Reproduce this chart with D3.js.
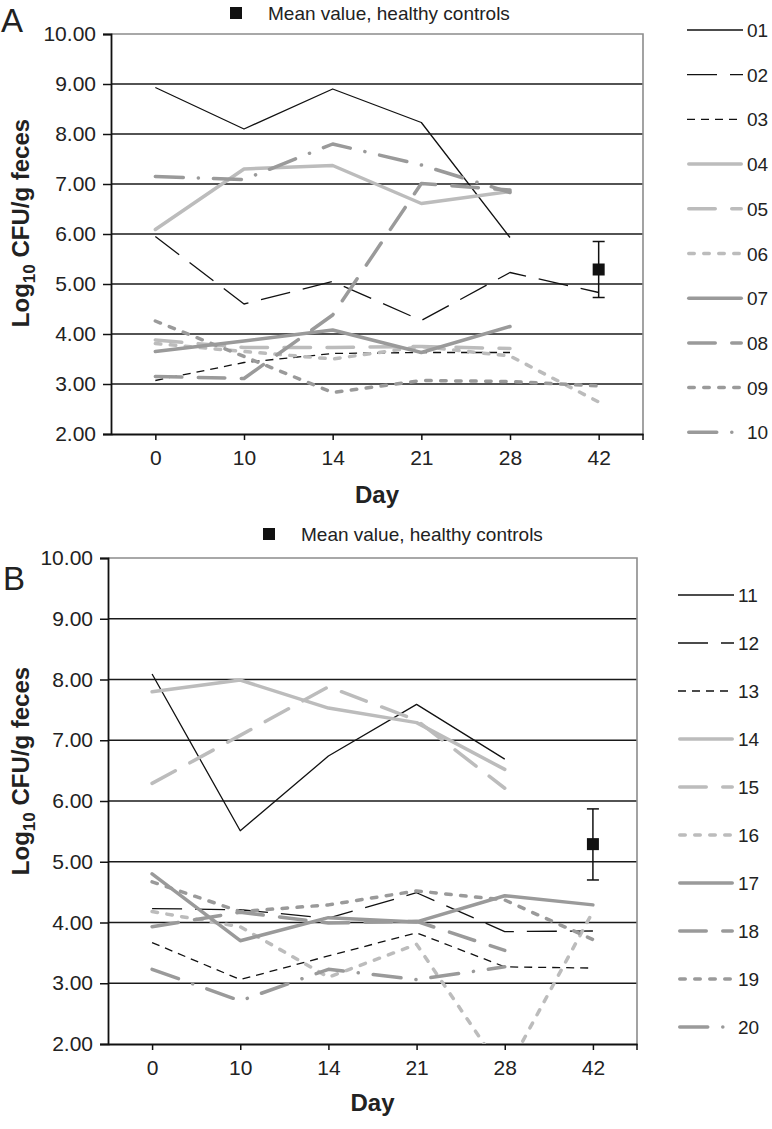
<!DOCTYPE html>
<html>
<head>
<meta charset="utf-8">
<script src="https://cdn.jsdelivr.net/npm/d3@7"></script>
<style>
  body { margin: 0; background: #fff; }
  svg { display: block; font-family: "Liberation Sans", Arial, sans-serif; }
  .tick-label { font-size: 21px; fill: #222; }
  .axis-title { font-size: 24px; font-weight: bold; fill: #222; }
  .legend-text { font-size: 19px; fill: #222; }
  .panel-letter { font-size: 33px; fill: #222; }
</style>
</head>
<body>
<div id="chart"></div>
<script>
// Two stacked line panels (A: subjects 01-10, B: subjects 11-20), log10 CFU/g feces by day.

const days = ["0", "10", "14", "21", "28", "42"];
const yTicks = [2, 3, 4, 5, 6, 7, 8, 9, 10];

const namesA = ["01", "02", "03", "04", "05", "06", "07", "08", "09", "10"];
const valuesA = [
  [8.93, 8.10, 8.90, 8.23, 5.93, null],
  [5.95, 4.60, 5.05, 4.27, 5.23, 4.83],
  [3.07, 3.43, 3.61, 3.63, 3.63, null],
  [6.09, 7.30, 7.37, 6.61, 6.85, null],
  [3.88, 3.73, 3.73, 3.75, 3.71, null],
  [3.81, 3.65, 3.50, 3.75, 3.56, 2.64],
  [3.65, 3.86, 4.08, 3.63, 4.15, null],
  [3.15, 3.11, 4.38, 7.01, 6.88, null],
  [4.26, 3.55, 2.83, 3.07, 3.05, 2.96],
  [7.15, 7.09, 7.80, 7.38, 6.83, null]
];

const namesB = ["11", "12", "13", "14", "15", "16", "17", "18", "19", "20"];
const valuesB = [
  [8.09, 5.51, 6.74, 7.59, 6.69, null],
  [4.23, 4.21, 4.07, 4.49, 3.85, 3.86],
  [3.67, 3.06, 3.45, 3.83, 3.27, 3.25],
  [7.80, 7.99, 7.53, 7.29, 6.52, null],
  [6.29, 7.08, 7.88, 7.33, 6.21, null],
  [4.18, 3.93, 3.10, 3.64, 1.50, 4.18],
  [4.80, 3.70, 4.08, 4.01, 4.44, 4.29],
  [3.93, 4.17, 3.99, 4.02, 3.54, null],
  [4.67, 4.18, 4.29, 4.52, 4.37, 3.72],
  [3.23, 2.71, 3.23, 3.06, 3.27, null]
];

// healthy controls, shown at day 42: mean, lower and upper whisker
const controlDay = "42";
const controlMean = [5.29, 5.29];
const controlLow = [4.73, 4.70];
const controlHigh = [5.85, 5.87];

// one style per subject slot (same order in both panels)
const lightGray = "#bcbcbc";
const midGray = "#9a9a9a";
const styles = [
  { color: "#111", w: 1.3, dash: null, cap: "butt" },
  { color: "#111", w: 1.3, dash: "30,13", cap: "butt" },
  { color: "#111", w: 1.3, dash: "8,6", cap: "butt" },
  { color: lightGray, w: 3.5, dash: null, cap: "round" },
  { color: lightGray, w: 3.5, dash: "26.5,16.5", cap: "round" },
  { color: lightGray, w: 3.5, dash: "5.5,9.5", cap: "round" },
  { color: midGray, w: 3.5, dash: null, cap: "round" },
  { color: midGray, w: 3.5, dash: "26.5,16.5", cap: "round" },
  { color: midGray, w: 3.5, dash: "5.5,9.5", cap: "round" },
  { color: midGray, w: 3.5, dash: "28,15,0.1,15", cap: "round" }
];

const width = 772;
const height = 1129;

const svg = d3.select("#chart")
  .append("svg")
  .attr("width", width)
  .attr("height", height);

function drawPanel(p) {
  const x = d3.scalePoint()
    .domain(days)
    .range([p.left, p.right])
    .padding(0.5);

  const y = d3.scaleLinear()
    .domain([2, 10])
    .range([p.bottom, p.top]);

  const g = svg.append("g");

  // horizontal grid lines
  g.selectAll(".grid")
    .data(yTicks.filter(d => d > 2 && d < 10))
    .join("line")
    .attr("x1", p.left)
    .attr("x2", p.right)
    .attr("y1", d => y(d))
    .attr("y2", d => y(d))
    .attr("stroke", "#1a1a1a")
    .attr("stroke-width", 1.6);

  // grey frame on top and right
  g.append("path")
    .attr("d", `M${p.left},${y(10)}H${p.right}V${p.bottom}`)
    .attr("fill", "none")
    .attr("stroke", "#8c8c8c")
    .attr("stroke-width", 1.6);

  const yAxis = d3.axisLeft(y)
    .tickValues(yTicks)
    .tickFormat(d3.format(".2f"))
    .tickSize(8)
    .tickPadding(7);

  const yg = g.append("g")
    .attr("transform", `translate(${p.left},0)`)
    .call(yAxis);
  yg.select(".domain").attr("stroke", "#111").attr("stroke-width", 1.8);
  yg.selectAll(".tick line").attr("stroke", "#111").attr("stroke-width", 1.5);
  yg.selectAll(".tick text").attr("class", "tick-label").attr("font-size", null).attr("font-family", null);

  const xAxis = d3.axisBottom(x)
    .tickSize(6)
    .tickPadding(10)
    .tickSizeOuter(0);

  const xg = g.append("g")
    .attr("transform", `translate(0,${p.bottom})`)
    .call(xAxis);
  xg.select(".domain").attr("stroke", "#111").attr("stroke-width", 1.8);
  xg.selectAll(".tick line").attr("stroke", "#111").attr("stroke-width", 1.5);
  xg.selectAll(".tick text").attr("class", "tick-label").attr("font-size", null).attr("font-family", null);

  g.append("line")
    .attr("x1", p.right).attr("x2", p.right)
    .attr("y1", p.bottom).attr("y2", p.bottom + 6)
    .attr("stroke", "#111").attr("stroke-width", 1.5);

  // clip the series to the plotting area
  const clipId = "clip" + p.letter;
  svg.append("clipPath")
    .attr("id", clipId)
    .append("rect")
    .attr("x", p.left)
    .attr("y", p.top)
    .attr("width", p.right - p.left)
    .attr("height", p.bottom - p.top);

  const line = d3.line()
    .defined(d => d != null)
    .x((d, i) => x(days[i]))
    .y(d => y(d));

  g.append("g")
    .attr("clip-path", `url(#${clipId})`)
    .selectAll("path")
    .data(p.values)
    .join("path")
    .attr("d", d => line(d))
    .attr("fill", "none")
    .attr("stroke", (d, i) => styles[i].color)
    .attr("stroke-width", (d, i) => styles[i].w)
    .attr("stroke-dasharray", (d, i) => styles[i].dash)
    .attr("stroke-linecap", (d, i) => styles[i].cap)
    .attr("stroke-linejoin", "round");

  // healthy controls marker with error bar
  const cx = x(controlDay);
  g.append("line")
    .attr("x1", cx).attr("x2", cx)
    .attr("y1", y(p.hi)).attr("y2", y(p.lo))
    .attr("stroke", "#111").attr("stroke-width", 1.5);
  [p.hi, p.lo].forEach(v => {
    g.append("line")
      .attr("x1", cx - 6).attr("x2", cx + 6)
      .attr("y1", y(v)).attr("y2", y(v))
      .attr("stroke", "#111").attr("stroke-width", 1.5);
  });
  g.append("rect")
    .attr("x", cx - 6).attr("y", y(p.mean) - 6)
    .attr("width", 12).attr("height", 12)
    .attr("fill", "#111");

  // top legend for the controls
  g.append("rect")
    .attr("x", p.keyX - 6).attr("y", p.keyY - 6)
    .attr("width", 12).attr("height", 12)
    .attr("fill", "#111");
  g.append("text")
    .attr("class", "legend-text")
    .attr("x", p.keyX + 32)
    .attr("y", p.keyY + 7)
    .text("Mean value, healthy controls");

  // series legend on the right
  const leg = g.append("g")
    .selectAll("g")
    .data(p.names)
    .join("g")
    .attr("transform", (d, i) => `translate(${p.legX},${p.legY + i * p.legStep})`);

  leg.append("line")
    .attr("x1", (d, i) => styles[i].cap === "round" ? 1.75 : 0)
    .attr("x2", (d, i) => styles[i].cap === "round" ? 54.25 : 56)
    .attr("y1", 0).attr("y2", 0)
    .attr("stroke", (d, i) => styles[i].color)
    .attr("stroke-width", (d, i) => styles[i].w)
    .attr("stroke-dasharray", (d, i) => styles[i].dash)
    .attr("stroke-linecap", (d, i) => styles[i].cap);

  leg.append("text")
    .attr("class", "legend-text")
    .attr("x", 60)
    .attr("y", 7)
    .text(d => d);

  // axis titles
  const yt = g.append("text")
    .attr("class", "axis-title")
    .attr("transform", `translate(${p.yTitleX},${p.yTitleY}) rotate(-90)`)
    .attr("text-anchor", "middle");
  yt.append("tspan").text("Log");
  yt.append("tspan").attr("font-size", "17px").attr("dy", 6).text("10");
  yt.append("tspan").attr("dy", -6).text(" CFU/g feces");

  g.append("text")
    .attr("class", "axis-title")
    .attr("x", (p.left + p.right) / 2)
    .attr("y", p.dayY)
    .attr("text-anchor", "middle")
    .text("Day");

  g.append("text")
    .attr("class", "panel-letter")
    .attr("x", p.letterX)
    .attr("y", p.letterY)
    .text(p.letter);
}

drawPanel({
  letter: "A", letterX: 1, letterY: 32,
  left: 111, right: 643, top: 34, bottom: 434,
  values: valuesA, names: namesA,
  mean: controlMean[0], lo: controlLow[0], hi: controlHigh[0],
  keyX: 236, keyY: 13,
  legX: 687, legY: 30, legStep: 44.7,
  yTitleX: 29, yTitleY: 223, dayY: 503
});

drawPanel({
  letter: "B", letterX: 3, letterY: 590,
  left: 108, right: 637, top: 558, bottom: 1044,
  values: valuesB, names: namesB,
  mean: controlMean[1], lo: controlLow[1], hi: controlHigh[1],
  keyX: 269, keyY: 534,
  legX: 678, legY: 595, legStep: 48,
  yTitleX: 29, yTitleY: 771, dayY: 1111
});
</script>
</body>
</html>
